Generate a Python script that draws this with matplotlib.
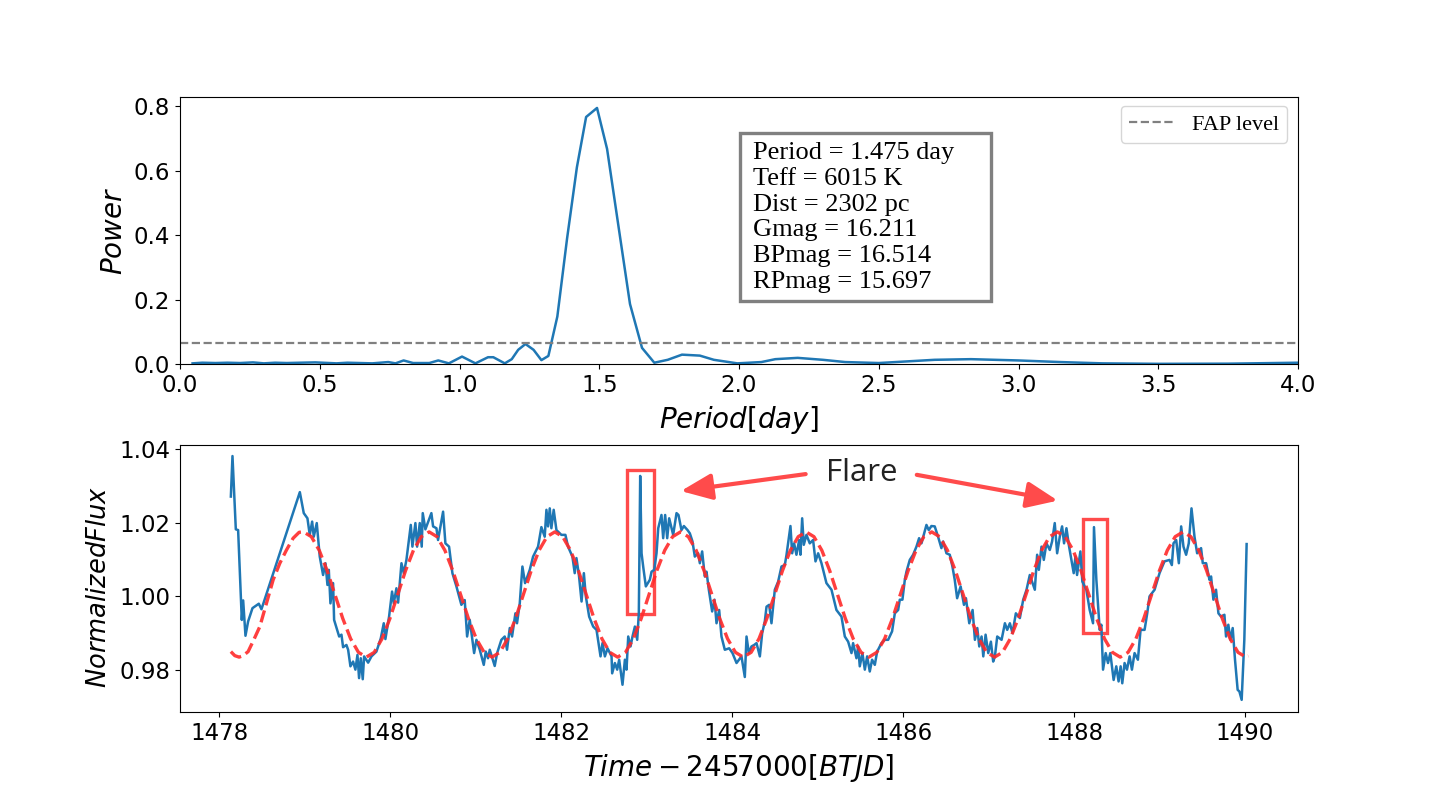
import matplotlib
matplotlib.use("Agg")
import matplotlib.pyplot as plt
from matplotlib.patches import Rectangle

# periodogram
period = [0.045, 0.08, 0.127, 0.17, 0.215, 0.261, 0.30, 0.34, 0.382, 0.43, 0.484, 0.56, 0.599, 0.688, 0.745, 0.771, 0.80, 0.834, 0.892, 0.924,
          0.962, 1.009, 1.057, 1.102, 1.121, 1.162, 1.187, 1.21, 1.236, 1.265, 1.293, 1.318, 1.35, 1.385,
          1.42, 1.453, 1.492, 1.528, 1.57, 1.61, 1.653, 1.697, 1.745, 1.796, 1.86, 1.91, 1.994, 2.08, 2.13,
          2.21, 2.30, 2.38, 2.5, 2.6, 2.7, 2.83, 3.0, 3.15, 3.3, 3.5, 3.75, 4.0]
power = [0.002, 0.004, 0.003, 0.004, 0.003, 0.005, 0.002, 0.004, 0.003, 0.004, 0.005, 0.002, 0.004, 0.002, 0.006, 0.002, 0.011, 0.003, 0.003, 0.011,
         0.002, 0.023, 0.002, 0.021, 0.021, 0.002, 0.015, 0.044, 0.062, 0.044, 0.012, 0.025, 0.147, 0.39,
         0.61, 0.766, 0.794, 0.667, 0.42, 0.186, 0.05, 0.004, 0.013, 0.029, 0.026, 0.013, 0.002, 0.006, 0.015,
         0.019, 0.013, 0.006, 0.003, 0.008, 0.013, 0.015, 0.011, 0.006, 0.002, 0.0005, 0.001, 0.004]
fap_level = 0.065

# light curve
time = [1478.135, 1478.154, 1478.193, 1478.220, 1478.263, 1478.279, 1478.306, 1478.337, 1478.388, 1478.462,
        1478.493, 1478.942, 1478.988, 1479.031, 1479.058, 1479.086, 1479.105, 1479.140, 1479.175, 1479.214,
        1479.242, 1479.265, 1479.281, 1479.300, 1479.331, 1479.343, 1479.402, 1479.429, 1479.448, 1479.487,
        1479.507, 1479.534, 1479.565, 1479.592, 1479.616, 1479.635, 1479.655, 1479.678, 1479.694, 1479.741,
        1479.780, 1479.838, 1479.889, 1479.924, 1479.943, 1479.986, 1480.021, 1480.041, 1480.072, 1480.092,
        1480.131, 1480.158, 1480.189, 1480.240, 1480.259, 1480.294, 1480.314, 1480.345, 1480.368, 1480.380,
        1480.411, 1480.481, 1480.501, 1480.540, 1480.559, 1480.618, 1480.645, 1480.688, 1480.727, 1480.774,
        1480.832, 1480.871, 1480.899, 1480.930, 1480.981, 1481.008, 1481.047, 1481.094, 1481.117, 1481.144,
        1481.164, 1481.195, 1481.222, 1481.250, 1481.300, 1481.339, 1481.366, 1481.398, 1481.425, 1481.464,
        1481.483, 1481.515, 1481.546, 1481.577, 1481.632, 1481.671, 1481.729, 1481.768, 1481.807, 1481.827,
        1481.846, 1481.866, 1481.885, 1481.912, 1481.944, 1482.002, 1482.049, 1482.080, 1482.131, 1482.158,
        1482.178, 1482.207, 1482.238, 1482.265, 1482.288, 1482.327, 1482.374, 1482.413, 1482.460, 1482.483,
        1482.511, 1482.542, 1482.589, 1482.596, 1482.628, 1482.655, 1482.678, 1482.717, 1482.745, 1482.764,
        1482.784, 1482.811, 1482.834, 1482.862, 1482.889, 1482.908, 1482.924, 1482.940, 1482.959, 1482.990,
        1483.037, 1483.057, 1483.088, 1483.115, 1483.135, 1483.173, 1483.193, 1483.216, 1483.240, 1483.263,
        1483.310, 1483.349, 1483.372, 1483.407, 1483.435, 1483.478, 1483.505, 1483.536, 1483.563, 1483.602,
        1483.622, 1483.649, 1483.680, 1483.700, 1483.727, 1483.766, 1483.793, 1483.817, 1483.848, 1483.875,
        1483.914, 1483.965, 1484.004, 1484.051, 1484.109, 1484.148, 1484.168, 1484.195, 1484.226, 1484.257,
        1484.285, 1484.324, 1484.351, 1484.382, 1484.402, 1484.433, 1484.460, 1484.499, 1484.538, 1484.577,
        1484.616, 1484.636, 1484.682, 1484.702, 1484.725, 1484.752, 1484.784, 1484.799, 1484.819, 1484.838,
        1484.869, 1484.908, 1484.947, 1484.975, 1485.006, 1485.045, 1485.103, 1485.162, 1485.220, 1485.279,
        1485.318, 1485.357, 1485.396, 1485.415, 1485.454, 1485.474, 1485.493, 1485.524, 1485.552, 1485.579,
        1485.610, 1485.637, 1485.669, 1485.696, 1485.747, 1485.786, 1485.825, 1485.871, 1485.903, 1485.942,
        1485.961, 1485.992, 1486.020, 1486.039, 1486.078, 1486.117, 1486.156, 1486.187, 1486.215, 1486.273,
        1486.300, 1486.331, 1486.370, 1486.409, 1486.448, 1486.468, 1486.507, 1486.546, 1486.577, 1486.604,
        1486.632, 1486.673, 1486.712, 1486.735, 1486.774, 1486.813, 1486.840, 1486.868, 1486.891, 1486.918,
        1486.938, 1486.965, 1486.996, 1487.027, 1487.054, 1487.074, 1487.101, 1487.152, 1487.191, 1487.218,
        1487.249, 1487.280, 1487.319, 1487.366, 1487.405, 1487.444, 1487.482, 1487.541, 1487.568, 1487.588,
        1487.619, 1487.646, 1487.677, 1487.716, 1487.743, 1487.774, 1487.802, 1487.833, 1487.860, 1487.883,
        1487.911, 1487.942, 1487.996, 1488.016, 1488.035, 1488.074, 1488.097, 1488.144, 1488.183, 1488.222,
        1488.233, 1488.261, 1488.300, 1488.319, 1488.339, 1488.370, 1488.397, 1488.424, 1488.463, 1488.494,
        1488.521, 1488.545, 1488.564, 1488.591, 1488.619, 1488.650, 1488.677, 1488.708, 1488.747, 1488.778,
        1488.825, 1488.856, 1488.883, 1488.942, 1489.000, 1489.058, 1489.117, 1489.144, 1489.163, 1489.195,
        1489.226, 1489.253, 1489.280, 1489.311, 1489.342, 1489.374, 1489.409, 1489.440, 1489.486, 1489.506,
        1489.545, 1489.584, 1489.603, 1489.630, 1489.661, 1489.689, 1489.720, 1489.759, 1489.778, 1489.805,
        1489.829, 1489.856, 1489.883, 1489.914, 1489.934, 1489.961, 1489.992, 1490.019]
flux = [1.0271, 1.0381, 1.0182, 1.0180, 0.9936, 0.9989, 0.9893, 0.9932, 0.9968, 0.9980,
        0.9965, 1.0283, 1.0226, 1.0212, 1.0167, 1.0203, 1.0162, 1.0199, 1.0108, 1.0058,
        1.0090, 1.0031, 1.0072, 0.9981, 1.0036, 0.9936, 0.9891, 0.9896, 0.9862, 0.9868,
        0.9855, 0.9810, 0.9823, 0.9801, 0.9841, 0.9778, 0.9832, 0.9775, 0.9837, 0.9820,
        0.9837, 0.9850, 0.9886, 0.9927, 0.9884, 0.9945, 1.0013, 0.9981, 1.0022, 0.9983,
        1.0090, 1.0063, 1.0099, 1.0194, 1.0135, 1.0199, 1.0135, 1.0199, 1.0135, 1.0226,
        1.0182, 1.0226, 1.0190, 1.0185, 1.0153, 1.0230, 1.0144, 1.0135, 1.0063, 1.0027,
        0.9977, 0.9990, 0.9891, 0.9936, 0.9846, 0.9882, 0.9855, 0.9814, 0.9850, 0.9832,
        0.9855, 0.9832, 0.9811, 0.9846, 0.9882, 0.9891, 0.9855, 0.9914, 0.9891, 0.9954,
        0.9927, 0.9981, 1.0081, 1.0036, 1.0072, 1.0108, 1.0135, 1.0188, 1.0162, 1.0235,
        1.0190, 1.0239, 1.0185, 1.0235, 1.0180, 1.0167, 1.0167, 1.0135, 1.0108, 1.0063,
        1.0104, 1.0058, 0.9986, 1.0063, 1.0000, 0.9945, 0.9918, 0.9909, 0.9837, 0.9873,
        0.9837, 0.9859, 0.9837, 0.9791, 0.9819, 0.9801, 0.9828, 0.9760, 0.9828, 0.9801,
        0.9891, 0.9864, 0.9891, 0.9918, 0.9882, 0.9954, 1.0327, 1.0117, 1.0081, 1.0027,
        1.0045, 1.0067, 1.0072, 1.0117, 1.0185, 1.0221, 1.0158, 1.0221, 1.0158, 1.0212,
        1.0167, 1.0226, 1.0221, 1.0180, 1.0191, 1.0180, 1.0171, 1.0149, 1.0108, 1.0117,
        1.0090, 1.0122, 1.0054, 1.0067, 1.0018, 0.9959, 0.9991, 0.9927, 0.9963, 0.9891,
        0.9855, 0.9859, 0.9846, 0.9819, 0.9837, 0.9781, 0.9891, 0.9846, 0.9864, 0.9868,
        0.9873, 0.9837, 0.9900, 0.9932, 0.9972, 0.9977, 0.9927, 1.0018, 1.0040, 1.0081,
        1.0085, 1.0113, 1.0191, 1.0117, 1.0144, 1.0113, 1.0153, 1.0113, 1.0212, 1.0140,
        1.0167, 1.0144, 1.0153, 1.0095, 1.0117, 1.0090, 1.0036, 1.0018, 0.9963, 0.9945,
        0.9891, 0.9877, 0.9846, 0.9873, 0.9832, 0.9864, 0.9810, 0.9846, 0.9801, 0.9837,
        0.9796, 0.9828, 0.9814, 0.9850, 0.9873, 0.9882, 0.9882, 0.9905, 0.9954, 0.9963,
        0.9991, 0.9991, 1.0045, 1.0067, 1.0099, 1.0113, 1.0135, 1.0158, 1.0144, 1.0194,
        1.0180, 1.0191, 1.0190, 1.0162, 1.0131, 1.0149, 1.0117, 1.0113, 1.0081, 1.0045,
        0.9995, 1.0027, 0.9977, 0.9995, 0.9927, 0.9963, 0.9882, 0.9914, 0.9864, 0.9891,
        0.9837, 0.9896, 0.9846, 0.9877, 0.9823, 0.9837, 0.9891, 0.9882, 0.9927, 0.9909,
        0.9927, 0.9900, 0.9954, 0.9941, 0.9991, 1.0018, 1.0058, 1.0018, 1.0113, 1.0072,
        1.0135, 1.0099, 1.0144, 1.0126, 1.0149, 1.0199, 1.0117, 1.0162, 1.0190, 1.0144,
        1.0185, 1.0135, 1.0063, 1.0108, 1.0058, 1.0122, 1.0040, 1.0018, 0.9963, 0.9927,
        1.0188, 1.0045, 0.9909, 0.9923, 0.9801, 0.9846, 0.9819, 0.9846, 0.9773, 0.9810,
        0.9769, 0.9810, 0.9764, 0.9819, 0.9801, 0.9837, 0.9801, 0.9846, 0.9828, 0.9909,
        0.9909, 0.9954, 1.0000, 1.0018, 1.0063, 1.0095, 1.0099, 1.0085, 1.0144, 1.0153,
        1.0090, 1.0190, 1.0135, 1.0113, 1.0144, 1.0239, 1.0162, 1.0117, 1.0131, 1.0090,
        1.0090, 1.0045, 1.0054, 0.9991, 1.0018, 0.9954, 0.9945, 0.9950, 0.9891, 0.9923,
        0.9882, 0.9914, 0.9828, 0.9746, 0.9742, 0.9719, 0.9882, 1.0142]

# fitted curve
fit_time = [1478.135, 1478.181, 1478.232, 1478.279, 1478.337, 1478.403, 1478.474, 1478.552, 1478.630, 1478.708,
            1478.786, 1478.864, 1478.934, 1478.985, 1479.077, 1479.169, 1479.261, 1479.353, 1479.444, 1479.536,
            1479.628, 1479.720, 1479.812, 1479.904, 1479.996, 1480.088, 1480.179, 1480.271, 1480.363, 1480.455,
            1480.547, 1480.639, 1480.731, 1480.823, 1480.914, 1481.006, 1481.098, 1481.190, 1481.282, 1481.374,
            1481.466, 1481.558, 1481.649, 1481.741, 1481.833, 1481.925, 1482.017, 1482.109, 1482.201, 1482.293,
            1482.384, 1482.476, 1482.568, 1482.660, 1482.752, 1482.844, 1482.936, 1483.028, 1483.119, 1483.211,
            1483.303, 1483.395, 1483.487, 1483.579, 1483.671, 1483.763, 1483.854, 1483.946, 1484.038, 1484.130,
            1484.222, 1484.314, 1484.406, 1484.498, 1484.589, 1484.681, 1484.773, 1484.865, 1484.957, 1485.049,
            1485.141, 1485.233, 1485.324, 1485.416, 1485.508, 1485.600, 1485.692, 1485.784, 1485.876, 1485.968,
            1486.059, 1486.151, 1486.243, 1486.335, 1486.427, 1486.519, 1486.611, 1486.703, 1486.794, 1486.886,
            1486.978, 1487.070, 1487.162, 1487.254, 1487.346, 1487.438, 1487.529, 1487.621, 1487.713, 1487.805,
            1487.897, 1487.989, 1488.081, 1488.173, 1488.264, 1488.356, 1488.448, 1488.540, 1488.632, 1488.724,
            1488.816, 1488.908, 1488.999, 1489.091, 1489.183, 1489.275, 1489.367, 1489.459, 1489.551, 1489.643,
            1489.734, 1489.826, 1489.918, 1490.010, 1490.040]
fit_flux = [0.9850, 0.9839, 0.9835, 0.9839, 0.9850, 0.9882, 0.9918, 0.9981, 1.0045, 1.0090,
            1.0126, 1.0158, 1.0174, 1.0175, 1.0162, 1.0125, 1.0070, 1.0005, 0.9940, 0.9885,
            0.9848, 0.9835, 0.9848, 0.9885, 0.9940, 1.0005, 1.0070, 1.0125, 1.0162, 1.0175,
            1.0162, 1.0125, 1.0070, 1.0005, 0.9940, 0.9885, 0.9848, 0.9835, 0.9848, 0.9885,
            0.9940, 1.0005, 1.0070, 1.0125, 1.0162, 1.0175, 1.0162, 1.0125, 1.0070, 1.0005,
            0.9940, 0.9885, 0.9848, 0.9835, 0.9848, 0.9885, 0.9940, 1.0005, 1.0070, 1.0125,
            1.0162, 1.0175, 1.0162, 1.0125, 1.0070, 1.0005, 0.9940, 0.9885, 0.9848, 0.9835,
            0.9848, 0.9885, 0.9940, 1.0005, 1.0070, 1.0125, 1.0162, 1.0175, 1.0162, 1.0125,
            1.0070, 1.0005, 0.9940, 0.9885, 0.9848, 0.9835, 0.9848, 0.9885, 0.9940, 1.0005,
            1.0070, 1.0125, 1.0162, 1.0175, 1.0162, 1.0125, 1.0070, 1.0005, 0.9940, 0.9885,
            0.9848, 0.9835, 0.9848, 0.9885, 0.9940, 1.0005, 1.0070, 1.0125, 1.0162, 1.0175,
            1.0162, 1.0125, 1.0070, 1.0005, 0.9940, 0.9885, 0.9848, 0.9835, 0.9848, 0.9885,
            0.9940, 1.0005, 1.0070, 1.0125, 1.0162, 1.0175, 1.0162, 1.0125, 1.0070, 1.0005,
            0.9940, 0.9885, 0.9848, 0.9835, 0.9838]

info_lines = ["Period = 1.475 day", "Teff = 6015 K", "Dist = 2302 pc",
              "Gmag = 16.211", "BPmag = 16.514", "RPmag = 15.697"]
power_ticks = [0.0, 0.2, 0.4, 0.6, 0.8]
period_ticks = [0.0, 0.5, 1.0, 1.5, 2.0, 2.5, 3.0, 3.5, 4.0]
time_ticks = [1478, 1480, 1482, 1484, 1486, 1488, 1490]
flux_ticks = [0.98, 1.00, 1.02, 1.04]

W, H = 1442, 800
RED = "#ff4b4b"
SERIF = "Liberation Serif"

plt.rcParams["mathtext.fontset"] = "dejavusans"
fig = plt.figure(figsize=(W / 100, H / 100), dpi=100)
ax1 = fig.add_axes([180 / W, 1 - 364 / H, 1118 / W, 267 / H])
ax2 = fig.add_axes([180 / W, 1 - 712 / H, 1118 / W, 267 / H])

# top panel
ax1.plot(period, power, color="#1f77b4", lw=1.8)
ax1.axhline(fap_level, color="gray", ls="--", lw=1.6, label="FAP level")
ax1.set_xlim(0, 4)
ax1.set_ylim(0, 0.828)
ax1.set_xticks(period_ticks)
ax1.set_yticks(power_ticks)
ax1.tick_params(labelsize=16.5)
ax1.set_xlabel("$Period[day]$", fontsize=20, labelpad=5)
ax1.set_ylabel("$Power$", fontsize=20, labelpad=4)
ax1.legend(loc="upper right", bbox_to_anchor=(1287 / W, 1 - 106 / H), bbox_transform=fig.transFigure,
           prop={"family": SERIF, "size": 16}, handlelength=2.0, handletextpad=0.85,
           borderaxespad=0, borderpad=0.36)

# info box
fig.add_artist(Rectangle((740 / W, 1 - 301 / H), 251 / W, 168 / H, transform=fig.transFigure,
                         facecolor="white", edgecolor="gray", lw=2.4, zorder=5))
for i, line in enumerate(info_lines):
    fig.text(753 / W, 1 - (153 + i * 25.8) / H, line, family=SERIF, fontsize=19, va="center", zorder=6)

# bottom panel
ax2.plot(time, flux, color="#1f77b4", lw=1.8)
ax2.plot(fit_time, fit_flux, color="#ff2a2a", ls="--", lw=2.4, alpha=0.9)
ax2.set_xlim(1477.54, 1490.62)
ax2.set_ylim(0.9686, 1.0411)
ax2.set_xticks(time_ticks)
ax2.set_yticks(flux_ticks)
ax2.set_yticklabels(["0.98", "1.00", "1.02", "1.04"])
ax2.tick_params(labelsize=16.5)
ax2.set_xlabel("$Time-2457000[BTJD]$", fontsize=20, labelpad=5)
ax2.set_ylabel("$Normalized Flux$", fontsize=18.5, labelpad=5, y=0.47)

# flare marks
ax2.add_patch(Rectangle((1482.766, 0.9953), 0.314, 0.0390, fill=False, edgecolor=RED, lw=2.4))
ax2.add_patch(Rectangle((1488.11, 0.9901), 0.27, 0.0309, fill=False, edgecolor=RED, lw=2.4))
ax2.text(1485.52, 1.0336, "Flare", family="Open Sans", fontsize=22.5, ha="center", va="center", color="#222222")
arrow_style = "-|>,head_length=1.9,head_width=0.8"
ax2.annotate("", xy=(1483.40, 1.0286), xytext=(1484.86, 1.0332),
             arrowprops=dict(arrowstyle=arrow_style, color=RED, lw=3, shrinkA=0, shrinkB=0))
ax2.annotate("", xy=(1487.81, 1.0260), xytext=(1486.16, 1.0330),
             arrowprops=dict(arrowstyle=arrow_style, color=RED, lw=3, shrinkA=0, shrinkB=0))

fig.savefig("out.png", dpi=100)
